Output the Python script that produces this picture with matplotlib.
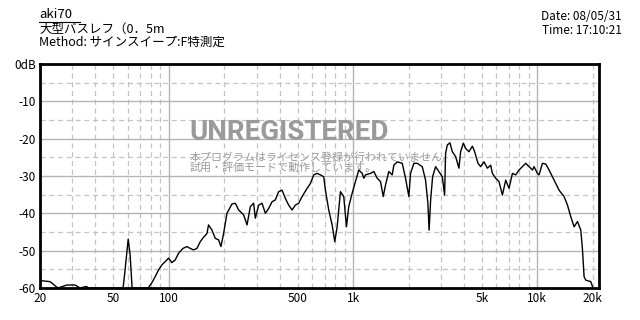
import matplotlib
matplotlib.use("Agg")
import matplotlib.pyplot as plt

plt.rcParams['font.family'] = ['Noto Sans CJK JP', 'DejaVu Sans']

# frequency response (Hz, dB)
freq = [20, 22.7, 25.0, 28.0, 31.0, 33.0, 35.6, 36.9, 56.5, 57.9, 60.2, 61.7, 63.2,
        77.3, 80.9, 84.3, 87.9, 91.7, 97.6, 99.6, 103.9, 108.3, 112.9, 119.3, 125.4,
        130.7, 136.2, 142.1, 148.1, 154.4, 161.1, 164.3, 171.5, 178.7, 186.2, 191.9,
        198.3, 206.8, 220.2, 229.6, 239.3, 254.7, 265.8, 277.0, 288.6, 294.8, 307.3,
        320.6, 334.2, 348.2, 363.4, 378.6, 394.5, 411.7, 429.2, 447.2, 466.6, 486.3,
        506.8, 528.9, 563.0, 586.8, 611.5, 638.1, 665.0, 693.0, 707.9, 737.7, 769.8,
        795.4, 819.6, 854.0, 890.1, 920.7, 947.5, 988.6, 1030, 1074, 1121, 1143, 1168,
        1243, 1296, 1352, 1409, 1458, 1500, 1563, 1631, 1664, 1736, 1849, 1926, 2008,
        2050, 2138, 2230, 2374, 2474, 2547, 2586, 2636, 2702, 2804, 2922, 3050, 3138,
        3178, 3246, 3354, 3456, 3602, 3754, 3834, 3966, 4082, 4254, 4440, 4570, 4762,
        4926, 5134, 5358, 5582, 5702, 5942, 6194, 6462, 6736, 7018, 7324, 7632, 7954,
        8298, 8648, 9014, 9406, 9594, 10012, 10216, 10660, 11110, 11578, 12078, 12588,
        13120, 13964, 14572, 15186, 15828, 16514, 17212, 17580, 17936, 18324, 19500,
        19950, 20000]
level = [-58.0, -58.3, -60.0, -59.2, -59.2, -60.0, -59.6, -60.0, -60.0, -55.2, -46.9,
         -51.2, -60.0, -60.0, -58.6, -57.0, -55.2, -53.8, -52.5, -52.0, -53.2, -52.5,
         -50.7, -49.4, -48.9, -49.4, -49.8, -49.4, -47.6, -46.4, -45.4, -43.1, -44.5,
         -46.7, -47.1, -48.9, -45.4, -40.0, -37.5, -37.3, -39.1, -40.4, -43.1, -38.2,
         -37.3, -41.3, -37.8, -37.3, -40.0, -38.7, -36.9, -36.4, -34.2, -33.8, -36.0,
         -37.8, -39.1, -37.8, -37.3, -35.5, -33.3, -32.0, -29.7, -29.3, -29.7, -30.2,
         -33.8, -39.1, -43.1, -47.6, -43.6, -34.2, -35.5, -43.6, -38.2, -34.6, -31.5,
         -28.4, -29.3, -30.6, -29.7, -29.3, -28.8, -30.6, -31.5, -35.5, -32.4, -28.8,
         -29.7, -27.1, -26.2, -26.6, -30.6, -35.5, -29.3, -26.6, -26.6, -27.5, -31.1,
         -37.3, -44.5, -36.4, -30.2, -27.5, -28.8, -30.2, -35.1, -23.9, -21.7, -21.1,
         -23.5, -24.8, -27.9, -23.5, -21.2, -22.6, -23.5, -22.0, -23.5, -26.6, -27.5,
         -26.2, -27.9, -27.1, -29.3, -30.6, -31.5, -35.1, -31.1, -33.3, -29.3, -29.7,
         -28.4, -27.5, -26.6, -27.5, -28.4, -27.5, -29.3, -29.7, -26.6, -26.8, -28.4,
         -30.2, -32.0, -33.8, -35.5, -37.8, -40.9, -43.6, -42.2, -44.5, -49.8, -57.0,
         -57.9, -58.3, -59.7, -60.0]

xtick_vals = [20, 50, 100, 500, 1000, 5000, 10000, 20000]
xtick_labels = ['20', '50', '100', '500', '1k', '5k', '10k', '20k']
ytick_vals = [0, -10, -20, -30, -40, -50, -60]
ytick_labels = ['0dB', '-10', '-20', '-30', '-40', '-50', '-60']

fig = plt.figure(figsize=(6.4, 3.2), dpi=100)
ax = fig.add_axes([0.0625, 0.1, 0.8734, 0.7])
ax.set_xscale('log')
ax.set_xlim(20, 21600)
ax.set_ylim(-60, 0)

# grid: solid at decades / 10 dB, dashed in between
for dec in (10, 100, 1000, 10000):
    for m in range(1, 10):
        f = dec * m
        if f < 20 or f > 20000:
            continue
        if m == 1:
            ax.axvline(f, color='#b4b4b4', lw=1, zorder=1)
        else:
            ax.axvline(f, color='#c4c4c4', lw=0.9, ls=(0, (4, 3)), zorder=1)
for d in range(-55, 0, 5):
    if d % 10 == 0:
        ax.axhline(d, color='#b4b4b4', lw=1, zorder=1)
    else:
        ax.axhline(d, color='#c4c4c4', lw=0.9, ls=(0, (4, 3)), zorder=1)

ax.plot(freq, level, color='black', lw=1.0, zorder=4)

ax.set_xticks(xtick_vals)
ax.set_xticklabels(xtick_labels)
ax.set_xticks([], minor=True)
ax.set_yticks(ytick_vals)
ax.set_yticklabels(ytick_labels)
ax.tick_params(length=0, labelsize=8.5, pad=3)
for s in ax.spines.values():
    s.set_linewidth(2)
    s.set_zorder(5)

# watermark
ax.text(0.268, 0.692, 'UNREGISTERED', transform=ax.transAxes, color='#9a9a9a',
        fontsize=20, fontweight='bold', family=['Roboto', 'DejaVu Sans'],
        ha='left', va='center', zorder=3)
ax.text(0.268, 0.560, '本プログラムはライセンス登録が行われていません。\n試用・評価モードで動作しています。',
        transform=ax.transAxes, color='#9a9a9a', fontsize=7.9, linespacing=0.95,
        ha='left', va='center', zorder=3)

# header
fig.text(39 / 640, 1 - 14 / 320, 'aki70', fontsize=9.5, ha='left', va='center')
fig.text(39 / 640, 1 - 29 / 320, '大型バスレフ（0．5m', fontsize=9, ha='left', va='center')
fig.text(39 / 640, 1 - 42 / 320, 'Method: サインスイープ:F特測定', fontsize=9, ha='left', va='center')
fig.text(622 / 640, 1 - 17 / 320, 'Date: 08/05/31', fontsize=8.5, ha='right', va='center')
fig.text(622 / 640, 1 - 30 / 320, 'Time: 17:10:21', fontsize=8.5, ha='right', va='center')
fig.add_artist(plt.Line2D([39 / 640, 80 / 640], [1 - 22 / 320, 1 - 22 / 320], color='black', lw=0.8))

fig.savefig('out.png', dpi=100, facecolor='white')
